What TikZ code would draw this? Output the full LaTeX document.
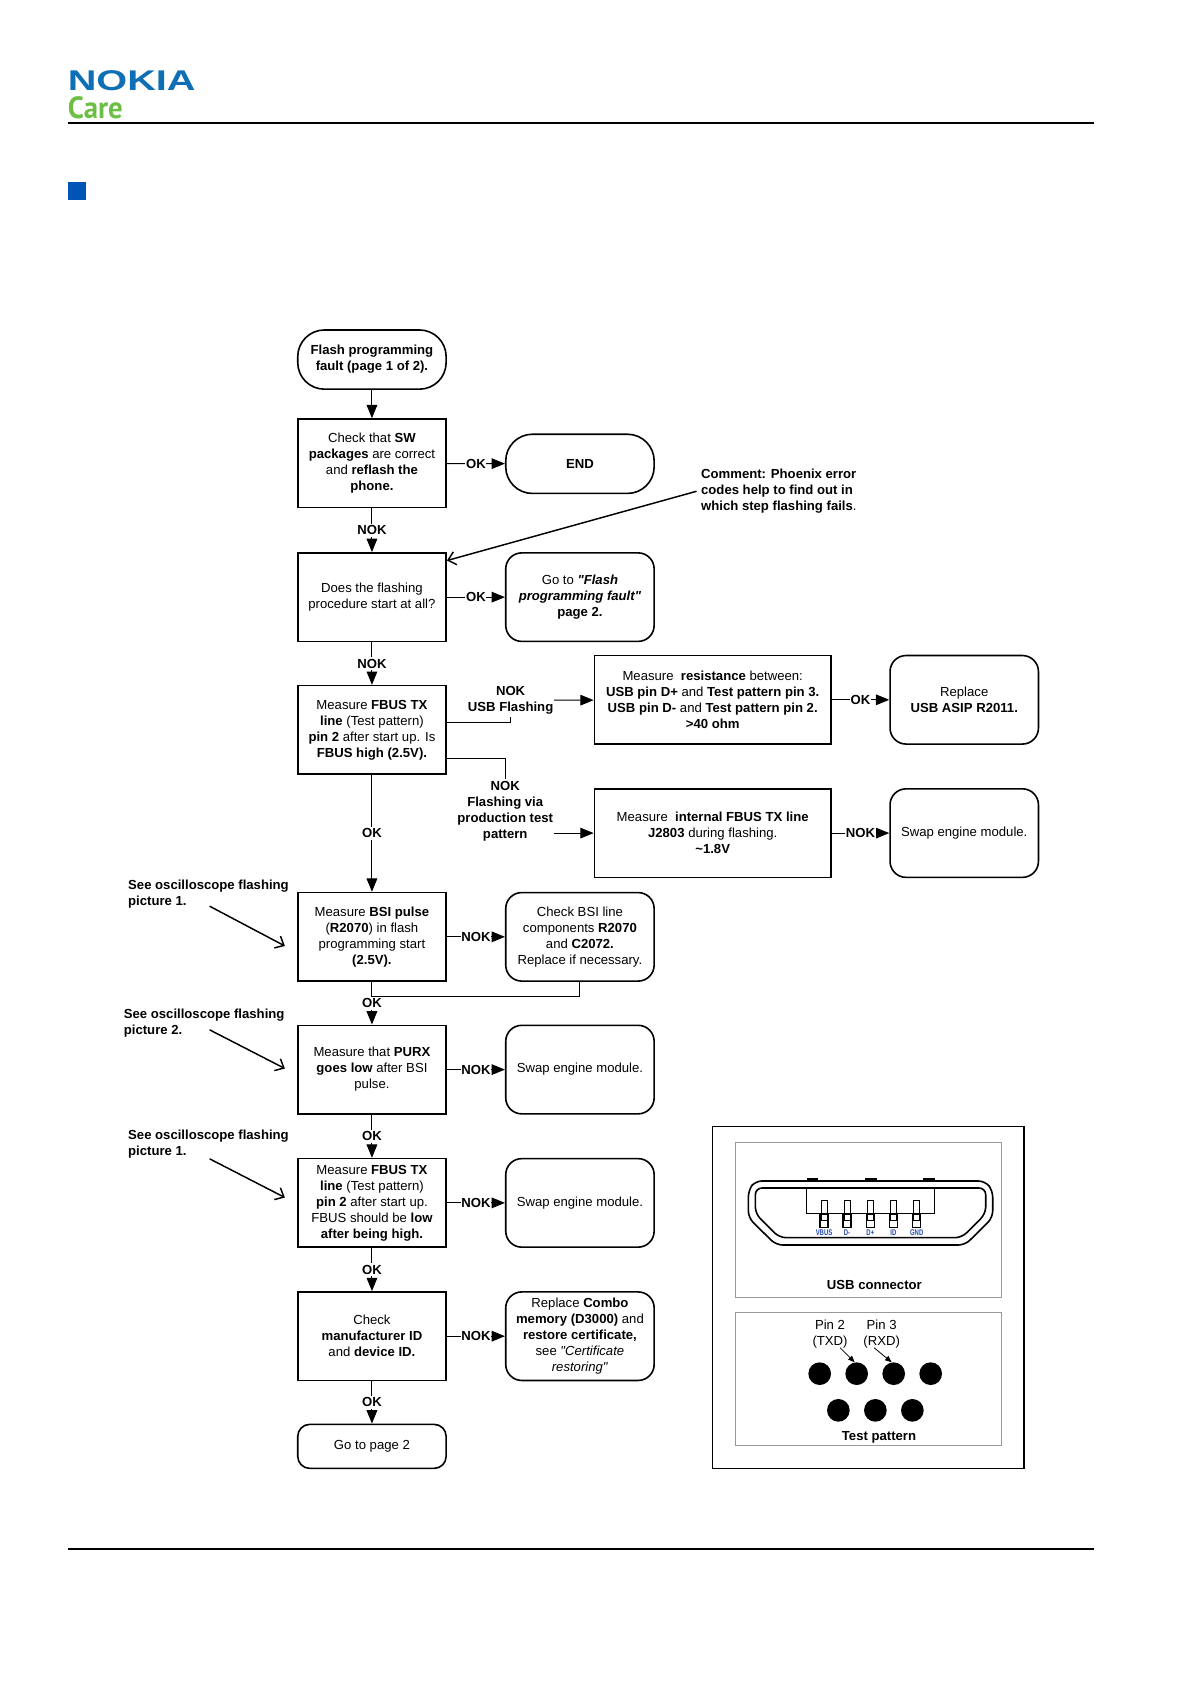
\documentclass[tikz,border=0pt]{standalone}
\usepackage{fontspec}
\setmainfont{Liberation Sans}[Ligatures=TeXOff]
\newfontfamily\carefont{PT Sans}
\usetikzlibrary{arrows.meta}
\definecolor{nokiablue}{HTML}{0F6FB5}
\definecolor{careblue}{HTML}{0054B8}
\definecolor{caregreen}{HTML}{6CBE45}
\definecolor{pinblue}{HTML}{2448B0}
\newcommand{\pinlabel}[1]{\scalebox{0.72}[1]{\fontsize{6.2}{7}\selectfont\bfseries\color{pinblue}#1}}
\tikzset{
  txt/.style={font=\fontsize{9.85}{12}\selectfont, align=center, inner sep=0pt},
  box/.style={txt, draw, line width=1.2pt, minimum width=111.3pt, minimum height=66.4pt},
  wide/.style={box, minimum width=177.4pt},
  soft/.style={box, rounded corners=12pt},
  term/.style={box, rounded corners=20pt, minimum height=44.4pt},
  small/.style={box, rounded corners=9pt, minimum height=33pt},
  lbl/.style={txt, font=\fontsize{9.85}{12}\selectfont\bfseries, fill=white, inner xsep=0.5pt, inner ysep=1.5pt},
  note/.style={txt, font=\fontsize{9.85}{12}\selectfont\bfseries, align=left, anchor=west},
  title/.style={txt, font=\fontsize{9.85}{12}\selectfont\bfseries},
  conn/.style={line width=0.75pt, -{Triangle[length=10pt,width=8pt]}},
  plain/.style={line width=0.75pt},
  pointer/.style={line width=1.1pt, -{Straight Barb[length=5.5pt,width=10pt]}},
  grey/.style={draw=black!40, line width=0.7pt}
}
\begin{document}
\begin{tikzpicture}[x=0.8062pt, y=-0.8062pt]
    \useasboundingbox (0,0) rectangle (1108.9,1567.5);
    % Header and footer
    \node (nokia) at (122.5,75.5) [inner sep=0pt, text=nokiablue] {\scalebox{1.39}[1]{\fontsize{21.4}{22}\selectfont\bfseries NOKIA}};
    \node (care) at (63,100) [anchor=west, inner sep=0pt, text=caregreen] {\scalebox{0.94}[1]{\carefont\fontsize{23}{24}\selectfont\bfseries Care}};
    \draw[line width=1.5pt] (63,114) -- (1018,114);
    \fill[careblue] (63,169.5) rectangle (80,186);
    \draw[line width=1.5pt] (63,1441) -- (1018,1441);
    % Main column
    \node (start) at (346,334.5) [term] {\textbf{Flash programming}\\\textbf{fault (page 1 of 2).}};
    \node (swcheck) at (346,431) [box] {Check that \textbf{SW}\\\textbf{packages} are correct\\and \textbf{reflash the}\\\textbf{phone.}};
    \node (flashstart) at (346,555.5) [box] {Does the flashing\\procedure start at all?};
    \node (fbushigh) at (346,679) [box] {Measure \textbf{FBUS TX}\\\textbf{line} (Test pattern)\\\textbf{pin 2} after start up. Is\\\textbf{FBUS high (2.5V).}};
    \node (bsipulse) at (346,871.5) [box] {Measure \textbf{BSI pulse}\\(\textbf{R2070}) in flash\\programming start\\\textbf{(2.5V).}};
    \node (purx) at (346,995) [box] {Measure that \textbf{PURX}\\\textbf{goes low} after BSI\\pulse.};
    \node (fbuslow) at (346,1119) [box] {Measure \textbf{FBUS TX}\\\textbf{line} (Test pattern)\\\textbf{pin 2} after start up.\\FBUS should be \textbf{low}\\\textbf{after being high.}};
    \node (manuid) at (346,1243) [box] {Check\\\textbf{manufacturer ID}\\and \textbf{device ID.}};
    \node (page2) at (346,1345.5) [small] {Go to page 2};
    % Right column
    \node (endnode) at (539.5,431.5) [term] {\textbf{END}};
    \node (gopage2) at (539.5,555.5) [soft] {Go to \textbf{\textit{"Flash}}\\\textbf{\textit{programming fault"}}\\\textbf{page 2.}};
    \node (bsiline) at (539.5,871.5) [soft] {Check BSI line\\components \textbf{R2070}\\and \textbf{C2072.}\\Replace if necessary.};
    \node (swap1) at (539.5,995) [soft] {Swap engine module.};
    \node (swap2) at (539.5,1119) [soft] {Swap engine module.};
    \node (combo) at (539.5,1243) [soft] {Replace \textbf{Combo}\\\textbf{memory (D3000)} and\\\textbf{restore certificate,}\\see \textit{"Certificate}\\\textit{restoring"}};
    % Branches of the FBUS step
    \node (resist) at (663,651) [wide] {Measure~ \textbf{resistance} between:\\\textbf{USB pin D+} and \textbf{Test pattern pin 3.}\\\textbf{USB pin D-} and \textbf{Test pattern pin 2.}\\\textbf{>40 ohm}};
    \node (internal) at (663,775) [wide] {Measure~ \textbf{internal FBUS TX line}\\\textbf{J2803} during flashing.\\\textbf{\textasciitilde1.8V}};
    \node (asip) at (897,651) [soft] {Replace\\\textbf{USB ASIP R2011.}};
    \node (swap3) at (897,775) [soft] {Swap engine module.};
    \node (usblabel) at (475,651.5) [lbl, align=center] {NOK\\USB Flashing};
    \node (vialabel) at (470,754.5) [lbl, align=center] {NOK\\Flashing via\\production test\\pattern};
    % Side notes
    \node (comment) at (652,457) [note] {Comment: Phoenix error\\codes help to find out in\\which step flashing fails\textmd{.}};
    \node (scope1) at (119,831.5) [note] {See oscilloscope flashing\\picture 1.};
    \node (scope2) at (115,951.5) [note] {See oscilloscope flashing\\picture 2.};
    \node (scope3) at (119,1064.5) [note] {See oscilloscope flashing\\picture 1.};
    \coordinate (fromcomment) at (648,457);
    \coordinate (ptrA) at (195,843);
    \coordinate (tipA) at (265,880);
    \coordinate (ptrB) at (195,958);
    \coordinate (tipB) at (265,994);
    \coordinate (ptrC) at (195,1078);
    \coordinate (tipC) at (265,1114);
    \coordinate (usbout) at (415,672);
    \coordinate (viaout) at (415,706);
    % Connectors
    \draw[conn] (start) -- (swcheck);
    \draw[conn] (swcheck) -- node[lbl] {OK} (endnode);
    \draw[conn] (swcheck) -- node[lbl] {NOK} (flashstart);
    \draw[conn] (flashstart) -- node[lbl] {OK} (gopage2);
    \draw[conn] (flashstart) -- node[lbl] {NOK} (fbushigh);
    \draw[conn] (fbushigh) -- node[lbl] {OK} (bsipulse);
    \draw[conn] (bsipulse) -- node[lbl] {NOK} (bsiline);
    \draw[conn] (bsipulse) -- node[lbl] (okbsi) {OK} (purx);
    \draw[plain] (bsiline.south) |- (okbsi.north);
    \draw[conn] (purx) -- node[lbl] {NOK} (swap1);
    \draw[conn] (purx) -- node[lbl] {OK} (fbuslow);
    \draw[conn] (fbuslow) -- node[lbl] {NOK} (swap2);
    \draw[conn] (fbuslow) -- node[lbl] {OK} (manuid);
    \draw[conn] (manuid) -- node[lbl] {NOK} (combo);
    \draw[conn] (manuid) -- node[lbl] {OK} (page2);
    \draw[plain] (usbout) -| (usblabel.south);
    \draw[plain] (viaout) -| (vialabel.north);
    \draw[conn] (usblabel) -- (resist);
    \draw[conn] (vialabel.east |- internal.west) -- (internal.west);
    \draw[conn] (resist) -- node[lbl] {OK} (asip);
    \draw[conn] (internal) -- node[lbl] {NOK} (swap3);
    \draw[pointer] (fromcomment) -- (flashstart.26.6);
    \draw[pointer] (ptrA) -- (tipA);
    \draw[pointer] (ptrB) -- (tipB);
    \draw[pointer] (ptrC) -- (tipC);
    % Connector and test pattern panel
    \begin{scope}[shift={(641.9,1032.9)}, x=0.25pt, y=-0.25pt]
        \draw[line width=1.2pt] (67,48) rectangle (1002,1075);
        \draw[grey] (135,96) rectangle (934,562);
        \draw[grey] (135,607) rectangle (934,1006);
        % USB shell
        \draw[line width=1.2pt, rounded corners=5pt] (175,240) -- (195,212) -- (885,212) -- (908,240) -- (908,322) -- (825,404) -- (258,404) -- (175,322) -- cycle;
        \draw[line width=1.2pt, rounded corners=5pt] (196,233) -- (887,233) -- (887,310) -- (815,382) -- (268,382) -- (196,310) -- cycle;
        \draw[line width=0.9pt] (350,233) -- (350,310) -- (733,310) -- (733,233);
        \foreach \tabx in {350,525,700}
            \fill (\tabx,204) rectangle (\tabx+35,212);
        % Pins
        \foreach \pinx/\pinname in {402/VBUS,471/D-,541/D+,610/ID,680/GND} {
            \draw[line width=0.4pt] (\pinx-9,271) rectangle (\pinx+9,330);
            \draw[line width=1pt] (\pinx-12,312) rectangle (\pinx+12,352);
            \node at (\pinx,368) [inner sep=0pt] {\pinlabel{\pinname}};
        }
        \node (usbtitle) at (553,523) [title] {USB connector};
        \node (testtitle) at (567,982) [title] {Test pattern};
        \node (pintwo) at (420,672) [txt] {Pin 2\\(TXD)};
        \node (pinthree) at (575,672) [txt] {Pin 3\\(RXD)};
        % Test pads
        \foreach \padx/\padname in {389/padA,500/padB,611/padC,722/padD}
            \node (\padname) at (\padx,790) [circle, fill, inner sep=0pt, minimum size=17pt] {};
        \foreach \padx/\padname in {445/padE,556/padF,667/padG}
            \node (\padname) at (\padx,900) [circle, fill, inner sep=0pt, minimum size=17pt] {};
        \coordinate (fromtwo) at (450,712);
        \coordinate (fromthree) at (552,712);
        \draw[line width=0.6pt, -{Triangle[length=5pt,width=4pt]}] (fromtwo) -- (padB.100);
        \draw[line width=0.6pt, -{Triangle[length=5pt,width=4pt]}] (fromthree) -- (padC.100);
    \end{scope}
\end{tikzpicture}
\end{document}
